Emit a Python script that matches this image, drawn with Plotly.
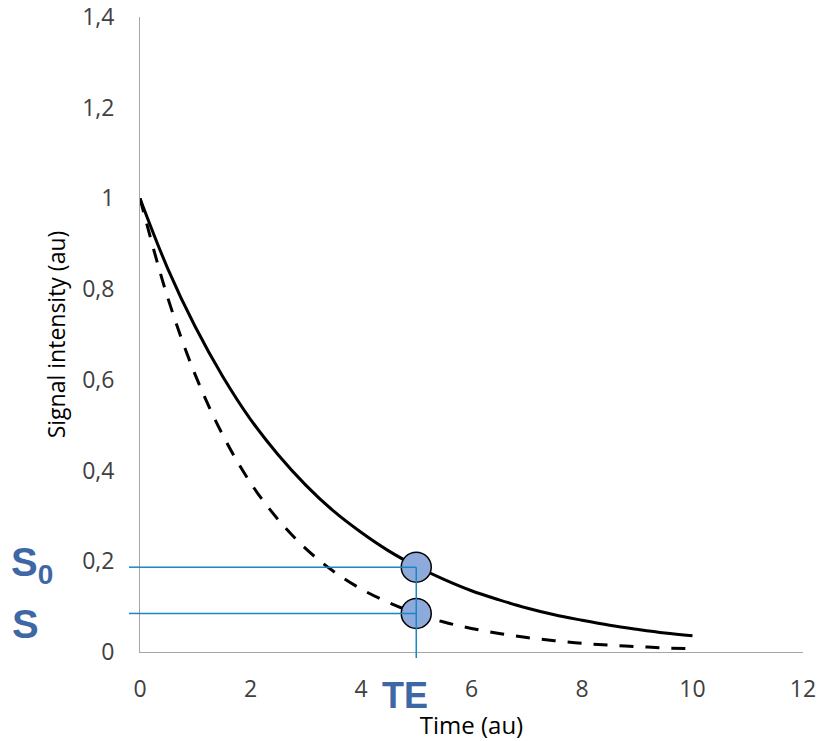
import plotly.graph_objects as go

# Data
time_au = [0, 0.5, 1, 1.5, 2, 2.5, 3, 3.5, 4, 4.5, 5, 5.5, 6, 6.5, 7, 7.5, 8, 8.5, 9, 9.5, 10]
signal_long = [1.0, 0.846, 0.717, 0.607, 0.513, 0.435, 0.368, 0.311, 0.264, 0.223, 0.189, 0.160,
               0.135, 0.115, 0.097, 0.082, 0.070, 0.059, 0.050, 0.042, 0.036]
signal_short = [1.0, 0.782, 0.611, 0.478, 0.373, 0.292, 0.228, 0.178, 0.139, 0.109, 0.085, 0.066,
                0.052, 0.041, 0.032, 0.025, 0.019, 0.015, 0.012, 0.009, 0.007]
te = 5
s0_value = 0.187
s_value = 0.085
x_ticks = [0, 2, 4, 6, 8, 10, 12]
y_ticks = [0, 0.2, 0.4, 0.6, 0.8, 1.0, 1.2, 1.4]

blue = "#1A86C8"
label_blue = "#3D67A5"
font_fam = "Open Sans"

fig = go.Figure()
fig.add_trace(go.Scatter(x=time_au, y=signal_long, mode="lines",
                         line=dict(color="black", width=3, shape="spline"), showlegend=False))
fig.add_trace(go.Scatter(x=time_au, y=signal_short, mode="lines",
                         line=dict(color="black", width=3, dash="14px,12px", shape="spline"),
                         showlegend=False))

# guide lines
for v in (s0_value, s_value):
    fig.add_shape(type="line", xref="x", yref="y", x0=0, x1=te, y0=v, y1=v,
                  line=dict(color=blue, width=1.5))
    fig.add_shape(type="line", xref="paper", xsizemode="pixel", xanchor=0, x0=-11, x1=0,
                  yref="y", y0=v, y1=v, line=dict(color=blue, width=1.5))
fig.add_shape(type="line", xref="x", yref="y", x0=te, x1=te, y0=0, y1=s0_value,
              line=dict(color=blue, width=1.5))
fig.add_shape(type="line", xref="x", x0=te, x1=te, yref="paper", ysizemode="pixel", yanchor=0,
              y0=-6, y1=0, line=dict(color=blue, width=1.5))

fig.add_trace(go.Scatter(x=[te, te], y=[s0_value, s_value], mode="markers",
                         marker=dict(size=30, color="#8EAADB", line=dict(color="black", width=1.5)),
                         showlegend=False, cliponaxis=False))

fig.add_annotation(x=0, xref="paper", xanchor="center", xshift=-108, y=s0_value, yref="y",
                   yanchor="middle", yshift=2,
                   text="<b>S<sub>0</sub></b>", showarrow=False,
                   font=dict(size=40, color=label_blue, family="Liberation Sans"))
fig.add_annotation(x=0, xref="paper", xanchor="center", xshift=-115, y=s_value, yref="y",
                   yanchor="middle", yshift=-11,
                   text="<b>S</b>", showarrow=False,
                   font=dict(size=40, color=label_blue, family="Liberation Sans"))
fig.add_annotation(x=te, xref="x", xanchor="center", xshift=-11, y=0, yref="paper",
                   yanchor="middle", yshift=-43,
                   text="<b>TE</b>", showarrow=False,
                   font=dict(size=36, color=label_blue, family="Liberation Sans"))

fig.update_layout(
    width=819, height=741,
    margin=dict(l=140, r=16, t=17, b=89),
    plot_bgcolor="white", paper_bgcolor="white",
    separators=", ",
    font=dict(family=font_fam, size=16, color="#595959"),
    xaxis=dict(range=[0, 12], tickvals=x_ticks, showgrid=False, zeroline=False, automargin=False,
               showline=True, linecolor="#A6A6A6", linewidth=1, ticks="",
               ticklabelstandoff=16, tickfont=dict(size=23, color="#404040"),
               title=dict(text="Time (au)", font=dict(size=24, color="black"), standoff=14)),
    yaxis=dict(range=[0, 1.4], tickvals=y_ticks, showgrid=False, zeroline=False, automargin=False,
               showline=True, linecolor="#A6A6A6", linewidth=1, ticks="",
               ticklabelstandoff=20, tickfont=dict(size=23, color="#404040"),
               title=dict(text="Signal intensity (au)", font=dict(size=23, color="black"), standoff=10)),
)

fig.write_html("out.html", config={"displayModeBar": False},
               post_script="document.body.style.margin='0px';")
